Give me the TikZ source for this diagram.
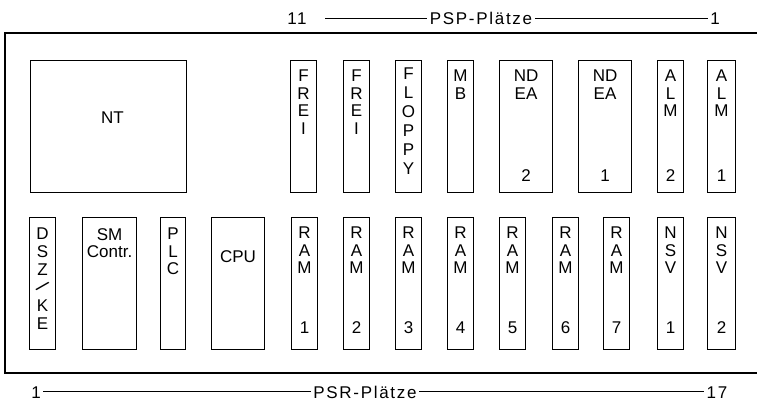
\documentclass[tikz,border=0pt]{standalone}
\usepackage{fontspec}
\usepackage{graphicx}
\usepackage{tikz}
\newfontfamily\slotfont{Liberation Sans}
\newfontfamily\placefont[LetterSpace=10]{Liberation Sans}

\begin{document}
\begin{tikzpicture}[
  x=1pt, y=-1pt,
  slot/.style={draw,line width=1.1pt,minimum height=132pt,inner sep=0pt,anchor=north west},
  narrow/.style={slot,minimum width=26pt},
  wide/.style={slot,minimum width=53pt},
  txt/.style={font=\slotfont\fontsize{17}{17.5}\selectfont,align=center,inner sep=0pt,anchor=north},
  num/.style={font=\slotfont\fontsize{17}{17.5}\selectfont,inner sep=0pt,anchor=base},
  place/.style={font=\placefont\fontsize{17}{17.5}\selectfont,inner sep=2.5pt,
                text height=12.5pt,text depth=0pt,anchor=base},
  rack/.style={line width=1.7pt},
  rule/.style={line width=0.7pt}
]
\useasboundingbox (0,0) rectangle (757,411);

% rack frame, open on the right
\draw[rack] (760,33) -- (5,33) -- (5,373) -- (760,373);

% PSP places (top row)
\node[slot,minimum width=156pt] (nt) at (30,60) {};
\node[narrow] (frei-a) at (290,60) {};
\node[narrow] (frei-b) at (343,60) {};
\node[narrow] (floppy) at (395,60) {};
\node[narrow] (mb) at (447,60) {};
\node[wide] (ndea2) at (499,60) {};
\node[wide] (ndea1) at (578,60) {};
\node[narrow] (alm2) at (657,60) {};
\node[narrow,minimum width=28pt] (alm1) at (707,60) {};

\node[txt,anchor=center] (nt-t) at ([xshift=4pt,yshift=9pt]nt.center) {NT};
\node[txt] (frei-a-t) at ([yshift=-10pt]frei-a.north) {F\\R\\E\\I};
\node[txt] (frei-b-t) at ([yshift=-10pt]frei-b.north) {F\\R\\E\\I};
\node[txt,font=\slotfont\fontsize{17}{19}\selectfont] (floppy-t) at ([yshift=-8pt]floppy.north) {F\\L\\O\\P\\P\\Y};
\node[txt] (mb-t) at ([yshift=-10pt]mb.north) {M\\B};
\node[txt] (ndea2-t) at ([yshift=-10pt]ndea2.north) {ND\\EA};
\node[txt] (ndea1-t) at ([yshift=-10pt]ndea1.north) {ND\\EA};
\node[txt] (alm2-t) at ([yshift=-10pt]alm2.north) {A\\L\\M};
\node[txt] (alm1-t) at ([yshift=-10pt]alm1.north) {A\\L\\M};
\node[num] (ndea2-n) at ([yshift=12pt]ndea2.south) {2};
\node[num] (ndea1-n) at ([yshift=12pt]ndea1.south) {1};
\node[num] (alm2-n) at ([yshift=12pt]alm2.south) {2};
\node[num] (alm1-n) at ([yshift=12pt]alm1.south) {1};

% PSR places (bottom row)
\node[narrow] (dszke) at (29,217) {};
\node[wide,minimum width=54pt] (smc) at (82,217) {};
\node[narrow,minimum width=25pt] (plc) at (160,217) {};
\node[wide] (cpu) at (211,217) {};
\node[narrow] (ram1) at (291,217) {};
\node[narrow] (ram2) at (343,217) {};
\node[narrow] (ram3) at (395,217) {};
\node[narrow] (ram4) at (447,217) {};
\node[narrow] (ram5) at (499,217) {};
\node[narrow] (ram6) at (552,217) {};
\node[narrow] (ram7) at (603,217) {};
\node[narrow] (nsv1) at (657,217) {};
\node[narrow,minimum width=28pt] (nsv2) at (707,217) {};

\node[txt,font=\slotfont\fontsize{17}{18}\selectfont] (dszke-t) at ([yshift=-11pt]dszke.north)
  {D\\S\\Z\\\smash{\scalebox{1.15}{\rotatebox[origin=c]{-45}{/}}}\\K\\E};
\node[txt] (smc-t) at ([yshift=-11pt]smc.north) {SM\\Contr.};
\node[txt] (plc-t) at ([yshift=-11pt]plc.north) {P\\L\\C};
\node[txt] (cpu-t) at ([yshift=-33pt]cpu.north) {CPU};
\node[txt] (ram1-t) at ([yshift=-10pt]ram1.north) {R\\A\\M};
\node[txt] (ram2-t) at ([yshift=-10pt]ram2.north) {R\\A\\M};
\node[txt] (ram3-t) at ([yshift=-10pt]ram3.north) {R\\A\\M};
\node[txt] (ram4-t) at ([yshift=-10pt]ram4.north) {R\\A\\M};
\node[txt] (ram5-t) at ([yshift=-10pt]ram5.north) {R\\A\\M};
\node[txt] (ram6-t) at ([yshift=-10pt]ram6.north) {R\\A\\M};
\node[txt] (ram7-t) at ([yshift=-10pt]ram7.north) {R\\A\\M};
\node[txt] (nsv1-t) at ([yshift=-10pt]nsv1.north) {N\\S\\V};
\node[txt] (nsv2-t) at ([yshift=-10pt]nsv2.north) {N\\S\\V};
\node[num] (ram1-n) at ([yshift=17pt]ram1.south) {1};
\node[num] (ram2-n) at ([yshift=17pt]ram2.south) {2};
\node[num] (ram3-n) at ([yshift=17pt]ram3.south) {3};
\node[num] (ram4-n) at ([yshift=17pt]ram4.south) {4};
\node[num] (ram5-n) at ([yshift=17pt]ram5.south) {5};
\node[num] (ram6-n) at ([yshift=17pt]ram6.south) {6};
\node[num] (ram7-n) at ([yshift=17pt]ram7.south) {7};
\node[num] (nsv1-n) at ([yshift=17pt]nsv1.south) {1};
\node[num] (nsv2-n) at ([yshift=17pt]nsv2.south) {2};

% place numbering
\node[place] (psp-l) at (297,25) {11};
\node[place] (psp) at (481,25) {PSP-Plätze};
\node[place] (psp-r) at (715,25) {1};
\draw[rule] ([xshift=16pt]psp-l.east) -- (psp);
\draw[rule] (psp) -- (psp-r);

\node[place] (psr-l) at (36,398) {1};
\node[place] (psr) at (365,398) {PSR-Plätze};
\node[place] (psr-r) at (717,398) {17};
\draw[rule] (psr-l) -- (psr);
\draw[rule] (psr) -- (psr-r);
\end{tikzpicture}
\end{document}
